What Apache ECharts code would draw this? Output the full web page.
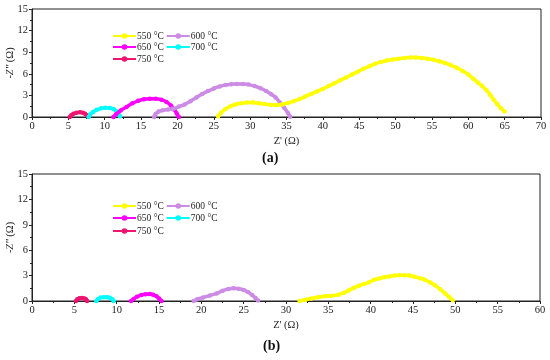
<!DOCTYPE html>
<html><head><meta charset="utf-8">
<script src="https://cdn.jsdelivr.net/npm/echarts@6/dist/echarts.min.js"></script>
<style>html,body{margin:0;padding:0;background:#fff}#c{width:550px;height:360px}</style>
</head><body><div id="c"></div>
<script>
var seriesNames = ['550 °C', '600 °C', '650 °C', '700 °C', '750 °C'];
var seriesColors = ['#FFFF00', '#CC8BE4', '#FF00FF', '#00FFFF', '#EE1570'];
var xTicksA = [0, 70, 5];
var xTicksB = [0, 60, 5];
var yTicks = [0, 15, 3];

// panel (a)
var a550 = [[25.6,0.1],[26.0,0.6],[26.6,1.1],[27.3,1.5],[28.0,1.75],[28.8,1.9],[29.6,2.0],[30.4,2.0],[31.2,1.9],[32.0,1.8],[32.8,1.7],[33.6,1.65],[34.4,1.75],[35.2,1.95],[36.0,2.2],[36.8,2.5],[37.6,2.85],[38.4,3.2],[39.2,3.55],[40.0,3.9],[40.8,4.3],[41.6,4.7],[42.4,5.1],[43.2,5.5],[44.0,5.9],[44.8,6.3],[45.6,6.7],[46.4,7.05],[47.2,7.4],[48.0,7.65],[48.8,7.85],[49.6,8.0],[50.4,8.1],[51.2,8.2],[52.0,8.25],[52.8,8.25],[53.6,8.2],[54.4,8.1],[55.2,7.95],[56.0,7.75],[56.8,7.5],[57.6,7.2],[58.4,6.85],[59.2,6.4],[60.0,5.9],[60.7,5.3],[61.3,4.8],[61.9,4.3],[62.5,3.7],[63.0,3.1],[63.5,2.4],[64.0,1.8],[64.5,1.2],[65.0,0.75]];
var a600 = [[16.8,0],[17.0,0.4],[17.4,0.75],[18.0,0.95],[18.7,1.05],[19.4,1.15],[20.2,1.45],[21.0,1.75],[21.8,2.2],[22.6,2.7],[23.4,3.2],[24.2,3.6],[25.0,3.95],[25.8,4.25],[26.6,4.45],[27.4,4.55],[28.2,4.6],[29.0,4.6],[29.8,4.5],[30.6,4.3],[31.4,4.0],[32.2,3.6],[32.9,3.15],[33.5,2.7],[34.1,2.0],[34.7,1.25],[35.2,0.55],[35.5,0.05]];
var a650 = [[11.2,0],[11.6,0.4],[12.2,0.9],[13.0,1.4],[13.8,1.9],[14.6,2.25],[15.4,2.45],[16.2,2.55],[17.0,2.55],[17.8,2.4],[18.5,2.1],[19.1,1.6],[19.6,1.0],[19.9,0.5],[20.2,0]];
var a700 = [[7.8,0],[8.0,0.35],[8.4,0.7],[8.9,1.0],[9.5,1.2],[10.1,1.28],[10.7,1.25],[11.2,1.1],[11.6,0.8],[11.9,0.45],[12.1,0.1]];
var a750 = [[5.2,0],[5.4,0.25],[5.7,0.45],[6.1,0.6],[6.6,0.65],[7.0,0.6],[7.3,0.45],[7.55,0.25],[7.7,0.05]];

// panel (b)
var b550 = [[31.6,0],[32.3,0.15],[33.0,0.3],[33.8,0.45],[34.6,0.55],[35.4,0.62],[36.2,0.75],[36.8,0.95],[37.4,1.25],[38.0,1.55],[38.6,1.8],[39.2,2.0],[39.8,2.2],[40.4,2.5],[41.0,2.65],[41.6,2.8],[42.2,2.9],[42.8,3.0],[43.4,3.05],[44.0,3.05],[44.6,3.0],[45.2,2.85],[45.8,2.7],[46.4,2.5],[47.0,2.2],[47.6,1.85],[48.2,1.4],[48.8,0.9],[49.3,0.45],[49.7,0.1]];
var b600 = [[19.1,0],[19.5,0.2],[20.2,0.4],[21.0,0.65],[21.8,0.9],[22.5,1.2],[23.2,1.42],[23.8,1.5],[24.4,1.45],[25.0,1.3],[25.5,1.05],[26.0,0.7],[26.4,0.35],[26.7,0.05]];
var b650 = [[11.7,0],[12.0,0.25],[12.4,0.5],[12.9,0.7],[13.4,0.8],[13.9,0.82],[14.3,0.75],[14.7,0.55],[15.0,0.3],[15.3,0]];
var b700 = [[7.6,0],[7.8,0.25],[8.1,0.4],[8.5,0.45],[8.9,0.45],[9.2,0.38],[9.5,0.2],[9.65,0]];
var b750 = [[5.2,0],[5.35,0.2],[5.6,0.32],[5.9,0.35],[6.2,0.3],[6.4,0.18],[6.5,0]];

var dataA = [a550, a600, a650, a700, a750];
var dataB = [b550, b600, b650, b700, b750];

var FONT = 'Liberation Serif';
function xAxis(idx, t) {
  return {
    type: 'value', gridIndex: idx, min: t[0], max: t[1], interval: t[2],
    name: "Z' (Ω)", nameLocation: 'middle', nameGap: 19, nameMoveOverlap: false,
    nameTextStyle: {fontFamily: FONT, fontSize: 10.5, color: '#222'},
    axisLine: {onZero: false, lineStyle: {color: '#222', width: 1}},
    axisTick: {inside: false, length: 3, lineStyle: {color: '#222'}},
    minorTick: {show: true, splitNumber: 2, length: 2, lineStyle: {color: '#222'}},
    axisLabel: {fontFamily: FONT, fontSize: 10.5, color: '#222', margin: 4},
    splitLine: {show: false}
  };
}
function yAxis(idx, t) {
  return {
    type: 'value', gridIndex: idx, min: t[0], max: t[1], interval: t[2],
    name: "-{i|Z''} (Ω)", nameLocation: 'middle', nameGap: 16, nameRotate: 90, nameMoveOverlap: false,
    nameTextStyle: {fontFamily: FONT, fontSize: 10.5, color: '#222',
      rich: {i: {fontFamily: FONT, fontSize: 10.5, fontStyle: 'italic', color: '#222'}}},
    axisLine: {onZero: false, lineStyle: {color: '#222', width: 1}},
    axisTick: {inside: false, length: 3, lineStyle: {color: '#222'}},
    minorTick: {show: true, splitNumber: 2, length: 2, lineStyle: {color: '#222'}},
    axisLabel: {fontFamily: FONT, fontSize: 10.5, color: '#222', margin: 4},
    splitLine: {show: false}
  };
}
var series = [];
[dataA, dataB].forEach(function (set, g) {
  set.forEach(function (d, i) {
    series.push({
      type: 'line', name: seriesNames[i], xAxisIndex: g, yAxisIndex: g,
      data: d, smooth: true, symbol: 'circle', symbolSize: 4.5,
      itemStyle: {color: seriesColors[i]},
      lineStyle: {color: seriesColors[i], width: 3.5},
      animation: false, z: 10 - i
    });
  });
});
function legend(names, left, top) {
  return {
    data: names, left: left, top: top, orient: 'horizontal', itemGap: 2,
    itemWidth: 23, itemHeight: 7, padding: 0,
    textStyle: {fontFamily: FONT, fontSize: 9.5, color: '#222', padding: [0, 0, 0, -4]},
    selectedMode: false
  };
}
var option = {
  backgroundColor: '#fff',
  animation: false,
  grid: [
    {left: 32, right: 9, top: 9, height: 108, show: true, borderColor: '#222', borderWidth: 1, outerBoundsMode: 'none', containLabel: false},
    {left: 32, right: 10, top: 174, height: 127, show: true, borderColor: '#222', borderWidth: 1, outerBoundsMode: 'none', containLabel: false}
  ],
  xAxis: [xAxis(0, xTicksA), xAxis(1, xTicksB)],
  yAxis: [yAxis(0, yTicks), yAxis(1, yTicks)],
  legend: [
    legend(['550 °C', '600 °C'], 112, 31),
    legend(['650 °C', '700 °C'], 112, 42),
    legend(['750 °C'], 112, 54),
    legend(['550 °C', '600 °C'], 112, 201),
    legend(['650 °C', '700 °C'], 112, 213),
    legend(['750 °C'], 112, 226)
  ],
  graphic: [
    {type: 'text', left: 262, top: 151, style: {text: '(a)', fontFamily: FONT, fontSize: 14, fontWeight: 'bold', fill: '#111'}},
    {type: 'text', left: 263, top: 339, style: {text: '(b)', fontFamily: FONT, fontSize: 14, fontWeight: 'bold', fill: '#111'}}
  ],
  series: series
};
var chart = echarts.init(document.getElementById('c'), null, {renderer: 'canvas'});
chart.setOption(option);
</script></body></html>
